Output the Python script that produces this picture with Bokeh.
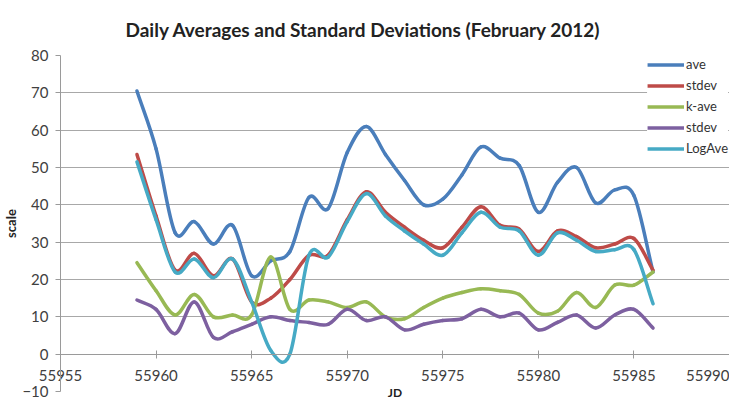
from bokeh.plotting import figure
from bokeh.models import (Range1d, Legend, LegendItem, SingleIntervalTicker,
                          ColumnDataSource, LinearAxis, BasicTickFormatter,
                          CustomJSTickFormatter)
from bokeh.embed import file_html
from bokeh.resources import INLINE

# ---- data ----
jd = list(range(55959, 55987))

ave = [70.5, 55, 32.5, 35.5, 29.5, 34.5, 21, 25, 27.5, 42, 39, 54, 61, 53.5,
       46.5, 40, 41.5, 48, 55.5, 52.5, 50.5, 38, 46, 50, 40.5, 44, 42.5, 22]
stdev = [53.5, 37, 22.5, 27, 21, 25.5, 14, 15, 20, 26.5, 26.5, 36, 43.5, 38,
         34, 30.5, 28.5, 34, 39.5, 34.5, 33.5, 27.5, 33, 31.5, 28.5, 29.5, 31, 22.5]
k_ave = [24.5, 17, 10.5, 16, 10, 10.5, 10.5, 26, 12, 14.5, 14, 12.5, 14, 10,
         9.5, 12.5, 15, 16.5, 17.5, 17, 16, 11, 11.5, 16.5, 12.5, 18.5, 18.5, 22]
stdev2 = [14.5, 12, 5.5, 14, 4.5, 6, 8, 10, 9, 8.5, 8, 12, 9, 10,
          6.5, 8, 9, 9.5, 12, 10, 11, 6.5, 8.5, 10.5, 7, 10.5, 12, 7]
log_ave = [51.5, 36, 22, 25.5, 20.5, 25.5, 14, 1, 0, 26.5, 26, 35.5, 43, 37,
           33, 29.5, 26.5, 32.5, 38, 34, 33, 26.5, 32.5, 30.5, 27.5, 28, 28, 13.5]

series_names = ["ave", "stdev", "k-ave", "stdev", "LogAve"]
series_values = [ave, stdev, k_ave, stdev2, log_ave]
colors = ["#4A7EBB", "#BE4B48", "#98B954", "#7D60A0", "#46AAC5"]

y_ticks_interval = 10
x_ticks_interval = 5
x_axis_cross = 0

FONT = "Lato"
AXIS_GRAY = "#9A9A9A"
LABEL_GRAY = "#404040"


def smooth_source(xs, ys):
    """Bezier segments between consecutive data points (Excel-like smoothed line)."""
    n = len(xs)
    m = []
    for i in range(n):
        if i == 0:
            m.append(ys[1] - ys[0])
        elif i == n - 1:
            m.append(ys[-1] - ys[-2])
        else:
            m.append((ys[i + 1] - ys[i - 1]) / 2.0)
    d = dict(x0=[], y0=[], x1=[], y1=[], cx0=[], cy0=[], cx1=[], cy1=[])
    for i in range(n - 1):
        h = xs[i + 1] - xs[i]
        d["x0"].append(xs[i]); d["y0"].append(ys[i])
        d["x1"].append(xs[i + 1]); d["y1"].append(ys[i + 1])
        d["cx0"].append(xs[i] + h / 3.0); d["cy0"].append(ys[i] + m[i] / 3.0)
        d["cx1"].append(xs[i + 1] - h / 3.0); d["cy1"].append(ys[i + 1] - m[i + 1] / 3.0)
    return ColumnDataSource(d)


p = figure(width=729, height=402, output_backend="svg", toolbar_location=None,
           x_range=Range1d(55955, 55990), y_range=Range1d(-10, 80),
           x_axis_location=None,
           min_border_left=57, min_border_right=0, min_border_top=10,
           min_border_bottom=0)
p.outline_line_color = None
p.background_fill_color = "white"

# title
p.title.text = "Daily Averages and Standard Deviations (February 2012)"
p.title.align = "left"
p.title.offset = 65
p.title.text_font = FONT
p.title.text_font_size = "19px"
p.title.text_font_style = "bold"
p.title.text_color = "#222222"
p.title.standoff = 30

# grid
p.xgrid.visible = False
p.ygrid.grid_line_color = "#A8A8A8"
p.ygrid.grid_line_width = 1.2
p.ygrid.ticker = SingleIntervalTicker(interval=y_ticks_interval)

# y axis
p.yaxis.ticker = SingleIntervalTicker(interval=y_ticks_interval)
p.yaxis.axis_label = "scale"
p.yaxis.axis_label_text_font = FONT
p.yaxis.axis_label_text_font_style = "bold"
p.yaxis.axis_label_text_font_size = "13px"
p.yaxis.axis_label_text_color = "#222222"
p.yaxis.axis_label_standoff = 0
p.yaxis.major_label_text_font = FONT
p.yaxis.major_label_text_font_size = "15px"
p.yaxis.major_label_text_color = LABEL_GRAY
p.yaxis.major_label_standoff = 7
p.yaxis.axis_line_color = AXIS_GRAY
p.yaxis.major_tick_line_color = AXIS_GRAY
p.yaxis.major_tick_out = 5
p.yaxis.major_tick_in = 0
p.yaxis.minor_tick_line_color = None

# x tick labels: a normal bottom axis whose labels are pulled up under the y = 0 line
x_lab_axis = LinearAxis(
    ticker=SingleIntervalTicker(interval=x_ticks_interval),
    formatter=BasicTickFormatter(use_scientific=False),
    axis_line_color=None, major_tick_line_color=None, minor_tick_line_color=None,
    major_tick_out=0, major_tick_in=0,
    major_label_standoff=-26,
    major_label_text_font=FONT, major_label_text_font_size="15px",
    major_label_text_color=LABEL_GRAY,
    axis_label="JD", axis_label_text_font=FONT,
    axis_label_text_font_style="bold", axis_label_text_font_size="12px",
    axis_label_text_line_height=0.7,
    axis_label_text_color="#222222", axis_label_standoff=1)
p.add_layout(x_lab_axis, "below")

# x axis line crossing at y = 0 with crossing ticks (kept out of the bottom panel)
x_line_axis = LinearAxis(
    fixed_location=x_axis_cross,
    ticker=SingleIntervalTicker(interval=x_ticks_interval),
    formatter=CustomJSTickFormatter(code="return ''"),
    axis_line_color=AXIS_GRAY, major_tick_line_color=AXIS_GRAY,
    minor_tick_line_color=None, major_tick_out=4, major_tick_in=4,
    major_label_standoff=0)
p.add_layout(x_line_axis, "above")

items = []
for name, vals, col in zip(series_names, series_values, colors):
    src = smooth_source(jd, vals)
    p.bezier(x0="x0", y0="y0", x1="x1", y1="y1", cx0="cx0", cy0="cy0",
             cx1="cx1", cy1="cy1", source=src, line_color=col,
             line_width=3.5, line_cap="round")
    proxy = p.line(x=jd[:1], y=vals[:1], line_color=col, line_width=3.5)
    items.append(LegendItem(label=name, renderers=[proxy]))

legend = Legend(items=items, location="top_right", orientation="vertical",
                glyph_width=37, glyph_height=15, label_height=15, spacing=5,
                padding=2, margin=1, label_standoff=2, label_width=10,
                label_text_font=FONT, label_text_font_size="13px",
                label_text_color="#333333",
                border_line_color=None, background_fill_color="white",
                background_fill_alpha=1.0)
p.add_layout(legend, "center")

open("out.html", "w").write(file_html(p, INLINE))
